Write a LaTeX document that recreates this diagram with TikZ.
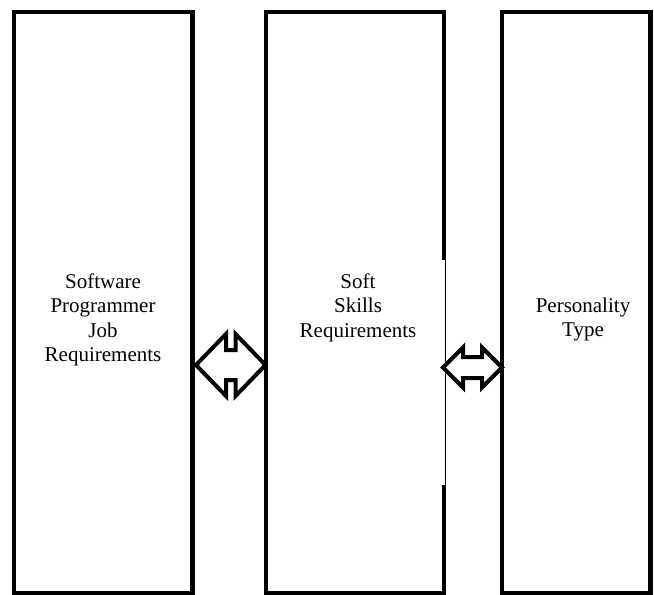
\documentclass[tikz,border=0pt]{standalone}
\usepackage{fontspec}
\setmainfont{Liberation Serif}
\begin{document}
\begin{tikzpicture}[x=1pt, y=-1pt,
    box/.style={draw, line width=4.5pt, minimum width=#1, minimum height=581pt, inner sep=0pt},
    txt/.style={align=center, font=\fontsize{21}{24.5}\selectfont},
    link/.style={draw, line width=4pt, fill=white, line join=miter}]
    \useasboundingbox (0,0) rectangle (654,595);

    % Boxes
    \node[box=178.5pt] (job)  at (103.25,302.5) {};
    \node[box=178pt]   (soft) at (355,302.5) {};
    \node[box=148.5pt] (type) at (576.25,302.5) {};
    \draw[white, line width=5pt] (444,260) -- (444,485); % thin part of the edge
    \draw[line width=1.5pt] (445.5,260) -- (445.5,485);

    % Labels
    \node[txt] (jobtext)  at (103,319.6) {Software\\Programmer\\Job\\Requirements};
    \node[txt] (softtext) at (358,307.7) {Soft\\Skills\\Requirements};
    \node[txt] (typetext) at (583,319.7) {Personality\\Type};

    % Arrows
    \coordinate (jobsoft) at (196,365);
    \coordinate (softjob) at (265.5,365);
    \coordinate (softtype) at (443,367.5);
    \coordinate (typesoft) at (502,367.5);
    \draw[link] (jobsoft) -- ++(30,-31) -- ++(0,16) -- ++(9.5,0) -- ++(0,-16) -- (softjob)
        -- ++(-30,31) -- ++(0,-16) -- ++(-9.5,0) -- ++(0,16) -- cycle;   % job <-> soft skills
    \draw[link] (softtype) -- ++(20,-20) -- ++(0,9.5) -- ++(19,0) -- ++(0,-9.5) -- (typesoft)
        -- ++(-20,20) -- ++(0,-9.5) -- ++(-19,0) -- ++(0,9.5) -- cycle;  % soft skills <-> type
\end{tikzpicture}
\end{document}
